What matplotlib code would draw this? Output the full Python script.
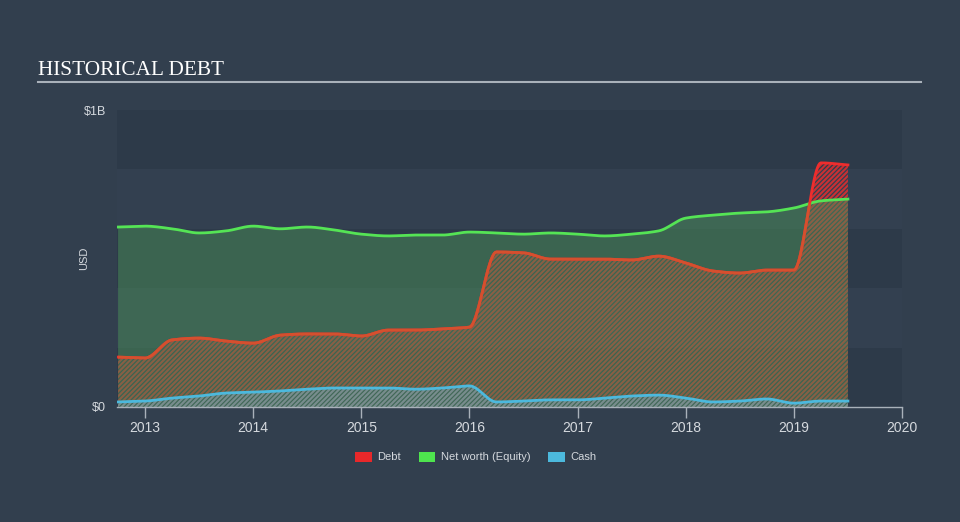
import numpy as np
import pandas as pd
import matplotlib
matplotlib.use("Agg")
import matplotlib.pyplot as plt
from matplotlib.patches import Patch
from matplotlib.colors import to_rgba

# Quarterly balance sheet figures (USD billions), Q3 2012 .. Q2 2019
quarters = pd.period_range("2012Q3", "2019Q2", freq="Q")
debt = [0.168, 0.165, 0.226, 0.232, 0.222, 0.215, 0.242, 0.246, 0.246, 0.239,
        0.259, 0.259, 0.263, 0.269, 0.522, 0.519, 0.498, 0.498, 0.498, 0.495,
        0.508, 0.485, 0.458, 0.451, 0.461, 0.461, 0.822, 0.815]
equity = [0.606, 0.609, 0.600, 0.586, 0.593, 0.609, 0.600, 0.606, 0.596, 0.582,
          0.576, 0.579, 0.579, 0.589, 0.586, 0.582, 0.586, 0.582, 0.576, 0.582,
          0.593, 0.636, 0.646, 0.653, 0.657, 0.670, 0.694, 0.700]
cash = [0.017, 0.020, 0.030, 0.037, 0.047, 0.050, 0.054, 0.060, 0.064, 0.064,
        0.064, 0.060, 0.064, 0.071, 0.017, 0.020, 0.024, 0.024, 0.030, 0.037,
        0.040, 0.030, 0.017, 0.020, 0.027, 0.013, 0.020, 0.020]
years = [2013, 2014, 2015, 2016, 2017, 2018, 2019, 2020]

x = np.array([q.year + q.quarter / 4.0 for q in quarters])


def monotone(xs, ys, n=24):
    # monotone cubic curve through the points, like the original chart's line style
    xs = np.asarray(xs, float)
    ys = np.asarray(ys, float)
    h = np.diff(xs)
    d = np.diff(ys) / h
    m = np.zeros_like(ys)
    m[0], m[-1] = d[0], d[-1]
    for k in range(1, len(ys) - 1):
        if d[k - 1] * d[k] > 0:
            w1 = 2 * h[k] + h[k - 1]
            w2 = h[k] + 2 * h[k - 1]
            m[k] = (w1 + w2) / (w1 / d[k - 1] + w2 / d[k])
    xo, yo = [], []
    for k in range(len(xs) - 1):
        t = np.linspace(0, 1, n, endpoint=False)
        h00 = 2 * t**3 - 3 * t**2 + 1
        h10 = t**3 - 2 * t**2 + t
        h01 = -2 * t**3 + 3 * t**2
        h11 = t**3 - t**2
        xo.append(xs[k] + t * h[k])
        yo.append(h00 * ys[k] + h10 * h[k] * m[k] + h01 * ys[k + 1] + h11 * h[k] * m[k + 1])
    xo.append([xs[-1]])
    yo.append([ys[-1]])
    return np.concatenate(xo), np.concatenate(yo)


bg = "#323f4e"
band_dark = "#2d3a49"
band_light = "#334050"
red = "#ee2d2d"
green = "#55e455"
blue = "#4cb9dd"
txt = "#d5d9de"

plt.rcParams["hatch.linewidth"] = 1.5

fig = plt.figure(figsize=(9.6, 5.22), dpi=100, facecolor=bg)
ax = fig.add_axes([117 / 960, 115 / 522, 785 / 960, 297 / 522])
ax.set_facecolor(bg)

for i, lo in enumerate(np.arange(0, 1.0, 0.2)):
    ax.axhspan(lo, lo + 0.2, color=band_dark if i % 2 == 0 else band_light, lw=0, zorder=0)

xd, yd = monotone(x, debt)
xe, ye = monotone(x, equity)
xc, yc = monotone(x, cash)

# debt: hatched red area
ax.fill_between(xd, 0, yd, facecolor="none", edgecolor=to_rgba(red, 0.8),
                hatch="///////", lw=0, zorder=1)

# equity: green area laid over the debt hatch
eq_fill = ax.fill_between(xe, 0, ye, facecolor="#4a8f58", alpha=0.5, lw=0, zorder=3)
ax.plot(xe, ye, color=green, lw=2, zorder=4)

# debt line: red above equity, orange where it sits inside the green area
ax.plot(xd, yd, color=red, lw=2, zorder=4.5)
inner, = ax.plot(xd, yd, color="#d5502e", lw=2, zorder=4.6)
inner.set_clip_path(eq_fill.get_paths()[0], transform=ax.transData)

# cash: hatched blue area
ax.fill_between(xc, 0, yc, facecolor=blue, alpha=0.08, lw=0, zorder=5)
ax.fill_between(xc, 0, yc, facecolor="none", edgecolor=to_rgba("#6fa8b8", 0.6),
                hatch="///////", lw=0, zorder=5)
ax.plot(xc, yc, color=blue, lw=2, zorder=6)

ax.set_xlim(x[0] - 0.01, 2020)
ax.set_ylim(0, 1.0)

for s in ["top", "right", "left"]:
    ax.spines[s].set_visible(False)
ax.spines["bottom"].set_color("#a9b1ba")
ax.spines["bottom"].set_linewidth(1)
ax.spines["bottom"].set_zorder(7)

ax.set_xticks(years)
ax.set_xticklabels([str(y) for y in years])
ax.set_yticks([0, 1.0])
ax.set_yticklabels(["$0", "$1B"])
ax.tick_params(axis="x", colors="#a9b1ba", length=8, width=1, labelcolor=txt,
               labelsize=10, pad=2)
ax.tick_params(axis="y", length=0, labelcolor=txt, labelsize=9, pad=8)
for lab in ax.get_xticklabels() + ax.get_yticklabels():
    lab.set_family("Liberation Sans")
ax.set_ylabel("USD", color=txt, fontsize=8, family="Liberation Sans")
ax.yaxis.set_label_coords(-28 / 785, 0.5)

fig.text(38 / 960, 1 - 75 / 522, "HISTORICAL DEBT", color="white", fontsize=15.3,
         family="Liberation Serif", va="baseline", ha="left")
fig.add_artist(plt.Line2D([38 / 960, 921 / 960], [1 - 82 / 522, 1 - 82 / 522],
                          color="#a9b1ba", lw=1.5))

handles = [Patch(facecolor="#e8282a", label="Debt"),
           Patch(facecolor="#4ee44e", label="Net worth (Equity)"),
           Patch(facecolor=blue, label="Cash")]
leg = fig.legend(handles=handles, loc="center", bbox_to_anchor=(476 / 960, 1 - 457 / 522),
                 ncol=3, frameon=False, handlelength=1.5, handleheight=1.0,
                 columnspacing=1.6, handletextpad=0.5, prop={"family": "Liberation Sans", "size": 8})
for t in leg.get_texts():
    t.set_color(txt)

fig.savefig("out.png", dpi=100, facecolor=bg)
